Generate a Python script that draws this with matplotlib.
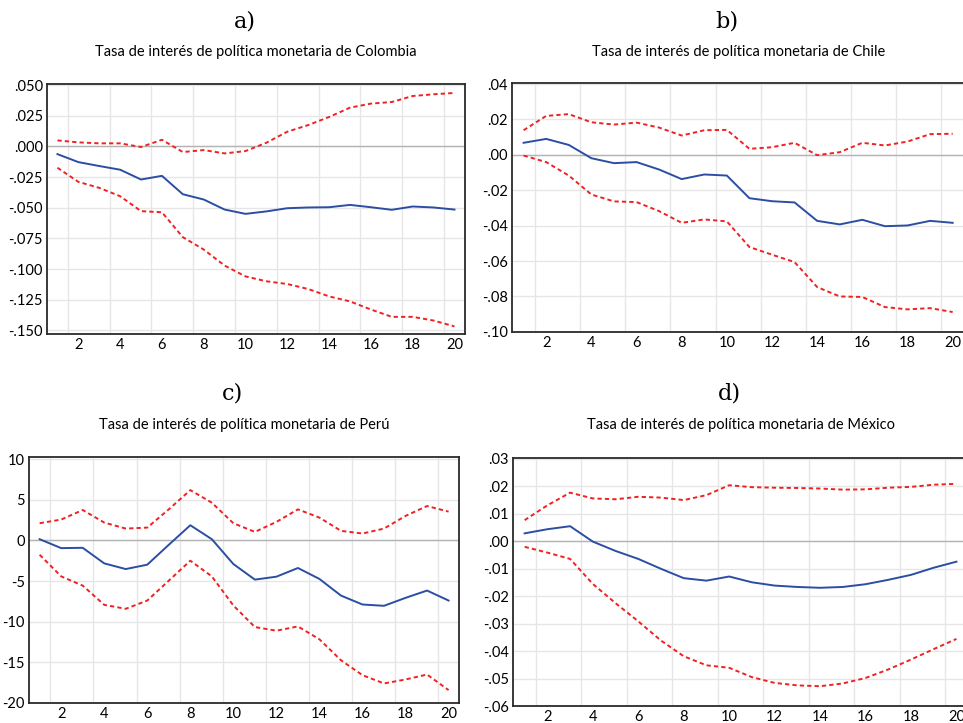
import matplotlib
matplotlib.use("Agg")
import matplotlib.pyplot as plt

horizon = list(range(1, 21))

# a) Colombia
col_irf = [-0.0063, -0.0128, -0.0160, -0.0190, -0.0270, -0.0240, -0.0390, -0.0433, -0.0515, -0.0550,
           -0.0530, -0.0504, -0.0498, -0.0496, -0.0477, -0.0496, -0.0517, -0.0490, -0.0498, -0.0515]
col_up = [0.0049, 0.0033, 0.0025, 0.0025, -0.0005, 0.0054, -0.0046, -0.0030, -0.0057, -0.0038,
          0.0030, 0.0120, 0.0174, 0.0240, 0.0316, 0.0349, 0.0362, 0.0411, 0.0425, 0.0436]
col_lo = [-0.0174, -0.0289, -0.0338, -0.0406, -0.0528, -0.0537, -0.0740, -0.0841, -0.0972, -0.1060,
          -0.1100, -0.1122, -0.1163, -0.1223, -0.1264, -0.1330, -0.1390, -0.1390, -0.1420, -0.1468]

# b) Chile
chi_irf = [0.0068, 0.0090, 0.0056, -0.0019, -0.0047, -0.0041, -0.0083, -0.0137, -0.0111, -0.0117,
           -0.0245, -0.0262, -0.0269, -0.0373, -0.0393, -0.0367, -0.0403, -0.0399, -0.0373, -0.0384]
chi_up = [0.0139, 0.0220, 0.0230, 0.0184, 0.0171, 0.0182, 0.0154, 0.0109, 0.0139, 0.0141,
          0.0034, 0.0043, 0.0068, -0.0002, 0.0015, 0.0068, 0.0053, 0.0075, 0.0117, 0.0119]
chi_lo = [-0.0004, -0.0041, -0.0117, -0.0224, -0.0263, -0.0267, -0.0318, -0.0384, -0.0365, -0.0376,
          -0.0521, -0.0564, -0.0606, -0.0747, -0.0800, -0.0803, -0.0860, -0.0873, -0.0866, -0.0888]

# c) Peru
per_irf = [0.16, -0.94, -0.90, -2.82, -3.52, -2.98, -0.53, 1.88, 0.16, -2.90,
           -4.82, -4.46, -3.39, -4.74, -6.79, -7.89, -8.05, -7.07, -6.17, -7.40]
per_up = [2.13, 2.58, 3.76, 2.21, 1.47, 1.59, 3.84, 6.21, 4.66, 2.13,
          1.06, 2.29, 3.84, 2.82, 1.19, 0.86, 1.47, 3.03, 4.25, 3.56]
per_lo = [-1.76, -4.42, -5.56, -7.93, -8.42, -7.40, -4.95, -2.49, -4.42, -8.01,
          -10.67, -11.12, -10.59, -12.18, -14.76, -16.60, -17.62, -17.13, -16.52, -18.44]

# d) Mexico
mex_irf = [0.0028, 0.0043, 0.0054, -0.0002, -0.0036, -0.0065, -0.0101, -0.0135, -0.0144, -0.0129,
           -0.0150, -0.0162, -0.0167, -0.0170, -0.0167, -0.0157, -0.0141, -0.0123, -0.0097, -0.0075]
mex_up = [0.0076, 0.0130, 0.0176, 0.0155, 0.0152, 0.0161, 0.0158, 0.0149, 0.0167, 0.0203,
          0.0196, 0.0194, 0.0193, 0.0191, 0.0187, 0.0188, 0.0194, 0.0197, 0.0205, 0.0208]
mex_lo = [-0.0021, -0.0042, -0.0065, -0.0156, -0.0226, -0.0292, -0.0362, -0.0419, -0.0452, -0.0461,
          -0.0495, -0.0516, -0.0525, -0.0528, -0.0518, -0.0498, -0.0467, -0.0431, -0.0393, -0.0356]

letters = ["a)", "b)", "c)", "d)"]
titles = ["Tasa de interés de política monetaria de Colombia",
          "Tasa de interés de política monetaria de Chile",
          "Tasa de interés de política monetaria de Perú",
          "Tasa de interés de política monetaria de México"]
yticks = [[0.050, 0.025, 0.000, -0.025, -0.050, -0.075, -0.100, -0.125, -0.150],
          [0.04, 0.02, 0.00, -0.02, -0.04, -0.06, -0.08, -0.10],
          [10, 5, 0, -5, -10, -15, -20],
          [0.03, 0.02, 0.01, 0.00, -0.01, -0.02, -0.03, -0.04, -0.05, -0.06]]
ylims = [(-0.153, 0.051), (-0.10, 0.0405), (-20, 10.3), (-0.06, 0.0302)]
fmts = ["{:.3f}", "{:.2f}", "{:.0f}", "{:.2f}"]
series = [(col_irf, col_up, col_lo), (chi_irf, chi_up, chi_lo),
          (per_irf, per_up, per_lo), (mex_irf, mex_up, mex_lo)]

# axes boxes in figure fractions [left, bottom, width, height]
boxes = [[0.0488, 0.538, 0.434, 0.346],
         [0.532, 0.541, 0.469, 0.344],
         [0.030, 0.028, 0.447, 0.340],
         [0.533, 0.0235, 0.472, 0.343]]
letter_y = [0.970, 0.970, 0.456, 0.456]
title_y = [0.928, 0.928, 0.412, 0.412]

fig = plt.figure(figsize=(9.63, 7.23), dpi=100)

for i in range(4):
    ax = fig.add_axes(boxes[i])
    irf, up, lo = series[i]
    ax.axhline(0, color="#b4b4b4", lw=1.0, zorder=1)
    ax.plot(horizon, up, color="#ee2222", lw=1.4, dashes=(2.2, 1.6), zorder=3)
    ax.plot(horizon, lo, color="#ee2222", lw=1.4, dashes=(2.2, 1.6), zorder=3)
    ax.plot(horizon, irf, color="#2b4ea3", lw=1.4, zorder=4)
    ax.set_xlim(0.5, 20.5)
    ax.set_ylim(*ylims[i])
    ax.set_xticks(range(2, 21, 2))
    ax.set_xticks([k + 0.5 for k in range(1, 20, 2)], minor=True)
    ax.set_yticks(yticks[i])
    labs = []
    for v in yticks[i]:
        s = fmts[i].format(v)
        if i != 2:
            s = s.replace("0.", ".", 1)
            if s.startswith("-.") and float(s) == 0:
                s = s[1:]
        labs.append(s)
    ax.set_yticklabels(labs, family="Lato", fontsize=10.5)
    for t in ax.get_xticklabels():
        t.set_family("Lato")
        t.set_fontsize(10.5)
    ax.grid(False)
    ax.grid(which="minor", axis="x", color="#e6e6e6", lw=1.0)
    ax.grid(which="major", axis="y", color="#e6e6e6", lw=1.0)
    ax.set_axisbelow(True)
    ax.tick_params(which="both", length=0, pad=3)
    for sp in ax.spines.values():
        sp.set_color("#2a2a2a")
        sp.set_linewidth(1.3)
    cx = boxes[i][0] + boxes[i][2] / 2
    fig.text(cx - 0.012, letter_y[i], letters[i], ha="center", va="center",
             family="DejaVu Serif", fontsize=16)
    fig.text(cx, title_y[i], titles[i], ha="center", va="center",
             family="Lato", fontsize=10.5)

fig.savefig("out.png", dpi=100)
